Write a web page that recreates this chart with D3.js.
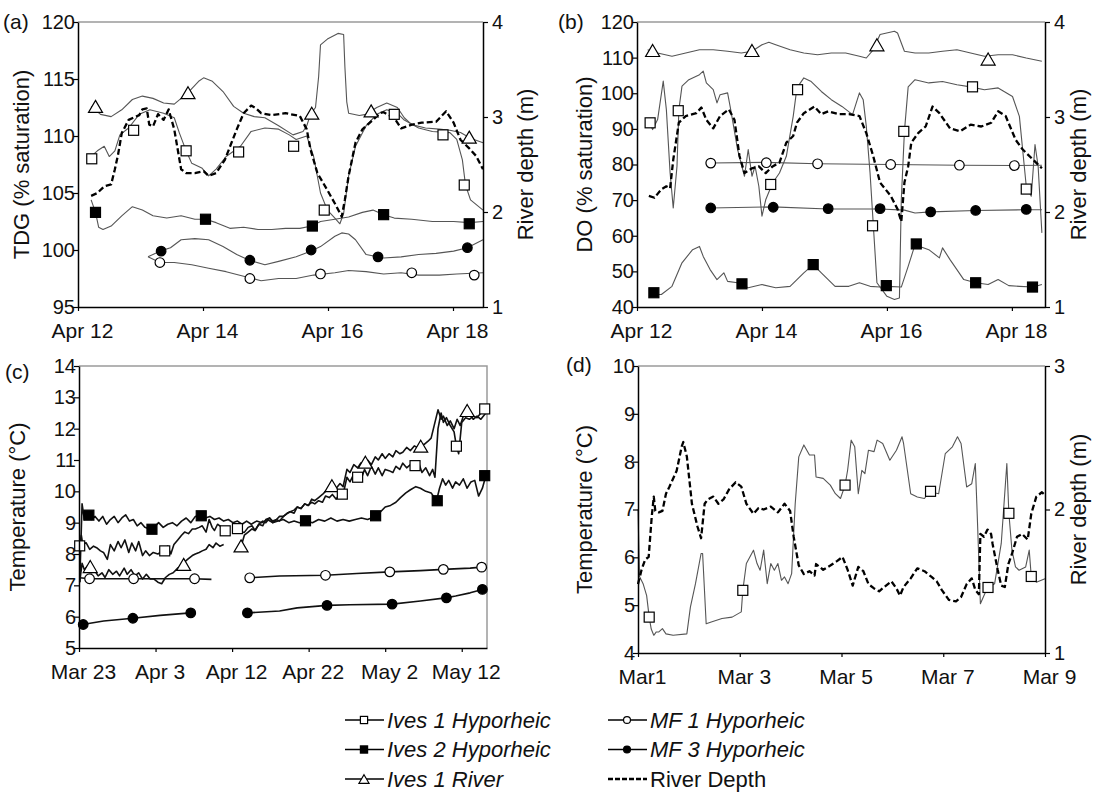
<!DOCTYPE html>
<html lang="en">
<head>
<meta charset="utf-8">
<title>TDG, DO and temperature</title>
<script src="https://d3js.org/d3.v7.min.js"></script>
<style>
  body { margin: 0; background: #fff; }
  text { font-family: "Liberation Sans", Arial, sans-serif; fill: #111; }
</style>
</head>
<body>
<script>
// ---- data: [time, value]; null value = gap in record ----
// (a) TDG, days from Apr 12
var tdgIves1River = [[0.21,112.6],[0.36,111.9],[0.53,111.7],[0.70,112.3],[0.87,113.2],[1.03,113.5],[1.20,113.3],[1.37,112.9],[1.54,112.8],[1.76,113.8],[1.93,114.8],[2.01,115.1],[2.15,114.8],[2.32,113.9],[2.49,112.6],[2.65,112.0],[2.82,111.7],[2.99,111.6],[3.21,110.9],[3.44,110.1],[3.60,110.4],[3.66,110.9],[3.72,111.9],[3.80,112.5],[3.85,115.2],[3.88,118.0],[3.99,118.5],[4.16,119.0],[4.25,118.9],[4.27,116.1],[4.30,113.0],[4.33,112.0],[4.50,111.8],[4.61,111.9],[4.78,112.5],[4.94,112.9],[5.11,112.5],[5.22,111.6],[5.34,111.0],[5.56,110.7],[5.78,110.6],[5.95,110.5],[6.12,110.3],[6.28,109.8],[6.48,109.4]];
var tdgIves1RiverMk = [[0.28,112.6],[1.76,113.8],[3.74,112.0],[4.69,112.2],[6.26,109.9]];
var tdgIves1Hyp = [[0.21,108.2],[0.31,108.7],[0.42,109.1],[0.50,108.2],[0.59,108.7],[0.67,110.1],[0.81,110.7],[0.98,111.9],[1.15,112.3],[1.37,112.0],[1.54,111.6],[1.62,110.3],[1.73,108.7],[1.82,107.6],[1.98,107.2],[2.09,106.5],[2.21,107.1],[2.37,108.2],[2.60,109.1],[2.77,110.4],[2.99,110.7],[3.21,110.6],[3.38,110.1],[3.49,109.7],[3.66,110.0],[3.77,108.2],[3.88,105.0],[3.99,103.5],[4.11,102.8],[4.19,102.3],[4.25,103.2],[4.33,106.5],[4.44,109.1],[4.61,110.9],[4.78,111.9],[4.94,112.3],[5.11,112.0],[5.22,111.4],[5.45,110.7],[5.67,110.4],[5.95,110.3],[6.06,109.7],[6.15,107.9],[6.20,105.7],[6.28,104.4],[6.48,103.5]];
var tdgIves1HypMk = [[0.22,108.0],[0.89,110.5],[1.73,108.7],[2.57,108.6],[3.45,109.1],[3.94,103.5],[5.06,111.9],[5.84,110.1],[6.18,105.7]];
var tdgIves2Hyp = [[0.21,104.4],[0.28,103.3],[0.33,102.0],[0.40,101.8],[0.53,102.1],[0.70,103.0],[0.87,103.8],[1.03,103.5],[1.20,103.0],[1.42,102.8],[1.65,103.0],[1.87,102.7],[2.04,102.7],[2.21,102.4],[2.43,101.9],[2.65,102.0],[2.88,101.8],[3.10,101.8],[3.32,101.9],[3.55,101.9],[3.74,102.1],[3.88,102.5],[4.11,102.7],[4.33,102.9],[4.55,103.3],[4.72,103.5],[4.89,103.1],[5.06,102.8],[5.34,102.7],[5.67,102.5],[6.01,102.5],[6.26,102.4],[6.48,102.5]];
var tdgIves2HypMk = [[0.28,103.3],[2.04,102.7],[3.75,102.1],[4.89,103.1],[6.26,102.3]];
var tdgMF3Hyp = [[1.12,99.4],[1.31,99.9],[1.48,100.2],[1.65,100.9],[1.87,101.0],[2.09,100.9],[2.32,100.3],[2.54,99.6],[2.74,99.1],[2.99,98.7],[3.21,99.0],[3.49,99.4],[3.72,99.9],[3.88,100.3],[4.11,101.2],[4.22,101.5],[4.33,101.4],[4.44,100.9],[4.61,99.6],[4.89,99.3],[5.17,99.4],[5.45,99.6],[5.73,99.7],[6.01,99.9],[6.23,100.2],[6.48,100.9]];
var tdgMF3HypMk = [[1.33,99.9],[2.75,99.1],[3.73,100.0],[4.80,99.4],[6.23,100.2]];
var tdgMF1Hyp = [[1.12,99.4],[1.31,98.9],[1.54,98.9],[1.82,98.7],[2.09,98.4],[2.37,98.1],[2.65,97.7],[2.93,97.3],[3.21,97.5],[3.49,97.5],[3.77,97.8],[4.11,98.0],[4.33,98.2],[4.61,98.1],[4.89,97.9],[5.17,98.0],[5.45,97.8],[5.78,97.8],[6.06,97.9],[6.48,98.0]];
var tdgMF1HypMk = [[1.31,98.9],[2.75,97.5],[3.88,97.9],[5.34,98.0],[6.34,97.8]];
var tdgDepth = [[0.21,2.17],[0.31,2.2],[0.42,2.27],[0.53,2.29],[0.59,2.45],[0.64,2.6],[0.70,2.83],[0.81,2.97],[0.98,3.02],[1.03,3.08],[1.10,3.09],[1.14,2.92],[1.20,2.90],[1.28,3.03],[1.37,2.97],[1.45,3.08],[1.54,2.87],[1.65,2.45],[1.73,2.41],[1.87,2.41],[2.01,2.43],[2.09,2.38],[2.21,2.41],[2.35,2.55],[2.54,2.87],[2.65,3.04],[2.77,3.12],[2.85,3.09],[2.93,3.04],[3.10,3.02],[3.32,3.04],[3.55,3.01],[3.66,2.87],[3.72,2.66],[3.83,2.41],[3.99,2.23],[4.11,2.09],[4.22,1.95],[4.27,2.13],[4.33,2.38],[4.44,2.73],[4.55,2.87],[4.72,2.97],[4.83,3.04],[4.89,3.05],[5.06,2.99],[5.17,2.88],[5.34,2.92],[5.50,2.94],[5.73,2.95],[5.89,3.06],[6.01,2.94],[6.12,2.76],[6.26,2.67],[6.37,2.59],[6.48,2.45]];

// (b) DO, days from Apr 12
var doIves1River = [[0.17,112.2],[0.33,111.3],[0.56,110.4],[0.78,111.3],[1.0,112.2],[1.22,112.2],[1.45,111.8],[1.67,111.3],[1.84,111.8],[2.0,113.6],[2.11,114.3],[2.22,113.6],[2.45,112.2],[2.67,111.3],[2.89,110.8],[3.11,111.3],[3.34,111.3],[3.56,110.4],[3.67,109.9],[3.78,112.2],[3.89,116.5],[4.12,117.4],[4.17,116.9],[4.23,114.1],[4.28,111.8],[4.45,111.3],[4.67,111.3],[4.89,111.8],[5.12,112.2],[5.34,111.3],[5.56,110.4],[5.78,110.8],[6.01,110.8],[6.23,109.9],[6.48,109.0]];
var doIves1RiverMk = [[0.25,112.0],[1.84,112.0],[3.84,113.6],[5.62,109.6]];
var doIves1Hyp = [[0.17,92.6],[0.25,89.8],[0.33,92.6],[0.42,103.4],[0.47,95.4],[0.53,77.6],[0.58,67.8],[0.64,79.5],[0.67,95.4],[0.72,102.0],[0.83,103.8],[1.0,105.2],[1.06,106.2],[1.11,102.9],[1.22,101.0],[1.28,97.3],[1.33,99.6],[1.45,100.1],[1.50,95.4],[1.61,84.2],[1.72,76.7],[1.78,84.2],[1.84,76.7],[1.89,79.5],[1.95,73.9],[2.0,65.5],[2.06,70.1],[2.17,74.8],[2.28,77.6],[2.39,82.3],[2.50,93.5],[2.56,101.5],[2.67,104.3],[2.78,103.4],[2.95,100.5],[3.11,98.2],[3.28,96.3],[3.45,94.0],[3.56,100.1],[3.62,98.2],[3.67,90.7],[3.73,77.6],[3.84,46.8],[4.0,43.0],[4.12,42.1],[4.20,42.5],[4.23,70.1],[4.28,89.3],[4.34,101.8],[4.45,103.8],[4.67,102.9],[4.89,103.3],[5.12,102.4],[5.34,101.8],[5.56,101.0],[5.78,101.5],[6.01,99.1],[6.12,93.5],[6.23,73.9],[6.31,71.1],[6.37,85.6],[6.42,79.5],[6.48,60.8]];
var doIves1HypMk = [[0.21,91.7],[0.66,95.1],[2.14,74.4],[2.57,101.0],[3.77,62.8],[4.27,89.3],[5.37,101.8],[6.23,73.1]];
var doIves2Hyp = [[0.22,43.5],[0.39,43.5],[0.56,45.8],[0.72,52.4],[0.89,56.1],[1.0,57.0],[1.06,54.2],[1.17,50.5],[1.28,47.7],[1.39,49.6],[1.45,47.2],[1.61,46.8],[1.78,45.4],[2.0,46.3],[2.22,45.4],[2.45,45.8],[2.67,49.6],[2.82,51.9],[2.95,49.6],[3.17,45.8],[3.39,45.8],[3.56,46.8],[3.73,45.8],[3.89,45.6],[4.0,45.8],[4.23,45.6],[4.34,51.4],[4.45,57.5],[4.67,56.1],[4.84,53.8],[4.89,56.6],[5.01,53.3],[5.23,47.7],[5.42,46.8],[5.62,46.3],[5.78,47.7],[5.95,46.0],[6.12,45.8],[6.34,45.6],[6.48,46.3]];
var doIves2HypMk = [[0.27,44.0],[1.68,46.5],[2.82,51.9],[3.99,46.0],[4.47,57.7],[5.42,46.8],[6.33,45.6]];
var doMF1Hyp = [[1.17,80.4],[2.06,80.6],[2.89,80.2],[4.06,80.0],[5.17,79.8],[6.04,79.7],[6.48,79.8]];
var doMF1HypMk = [[1.18,80.4],[2.07,80.5],[2.89,80.2],[4.06,80.0],[5.16,79.8],[6.04,79.7]];
var doMF3Hyp = [[1.17,67.8],[2.17,68.1],[3.06,67.5],[3.89,67.5],[4.28,67.2],[4.45,66.4],[4.70,66.7],[5.42,67.1],[6.23,67.3],[6.48,67.3]];
var doMF3HypMk = [[1.18,67.8],[2.18,68.0],[3.06,67.6],[3.89,67.6],[4.70,66.7],[5.42,67.1],[6.23,67.4]];
var doDepth = [[0.19,2.17],[0.28,2.15],[0.39,2.24],[0.47,2.27],[0.53,2.25],[0.58,2.55],[0.67,2.94],[0.78,3.01],[0.95,3.04],[1.03,3.10],[1.11,2.97],[1.22,2.88],[1.33,3.01],[1.47,3.08],[1.56,2.97],[1.64,2.59],[1.72,2.41],[1.84,2.46],[1.95,2.48],[2.06,2.41],[2.17,2.48],[2.28,2.52],[2.39,2.73],[2.50,2.80],[2.56,2.94],[2.67,3.04],[2.84,3.11],[2.95,3.03],[3.06,3.06],[3.23,3.03],[3.39,3.03],[3.56,3.01],[3.67,2.83],[3.78,2.59],[3.89,2.31],[4.06,2.17],[4.17,2.03],[4.23,1.90],[4.28,2.31],[4.34,2.48],[4.39,2.73],[4.50,2.83],[4.62,2.90],[4.73,3.11],[4.84,3.04],[5.01,2.88],[5.17,2.85],[5.34,2.92],[5.51,2.90],[5.67,2.94],[5.78,3.06],[5.90,3.01],[6.06,2.76],[6.17,2.66],[6.34,2.55],[6.48,2.46]];

// (c) temperature, days from Mar 23
var tIves2Hyp = [[0.1,7.1],[0.4,9.6],[0.7,9.1],[1.1,9.3],[1.6,9.1],[2.1,9.2],[2.6,9.05],[3.1,9.2],[3.6,8.95],[4.1,9.1],[4.6,9.2],[5.1,9.0],[5.6,9.15],[6.1,9.25],[6.6,9.05],[7.1,9.1],[7.6,8.9],[8.1,9.0],[8.6,8.85],[9.2,8.8],[9.8,8.85],[10.4,9.0],[11.0,8.85],[11.6,8.95],[12.2,9.0],[12.8,8.9],[13.4,9.05],[14.0,9.15],[14.6,9.0],[15.2,9.2],[15.9,9.25],[16.5,9.15],[17.1,9.2],[17.7,9.1],[18.3,9.15],[18.9,9.05],[19.5,9.1],[20.1,9.0],[20.7,9.05],[21.3,8.95],[21.9,9.05],[22.5,8.95],[23.2,9.05],[23.9,9.0],[24.6,9.1],[25.3,9.0],[26.0,9.05],[26.7,9.1],[27.4,9.0],[28.1,9.05],[28.8,9.0],[29.7,9.05],[30.5,9.0],[31.3,9.1],[32.1,9.05],[32.9,9.15],[33.7,9.05],[34.5,9.1],[35.3,9.05],[36.1,9.1],[36.9,9.15],[37.7,9.1],[38.7,9.2],[39.4,9.35],[40.0,9.5],[40.7,9.55],[41.4,9.65],[42.0,9.8],[42.7,9.95],[43.3,10.05],[44.0,10.15],[44.6,10.1],[45.3,10.0],[46.0,9.95],[46.7,9.7],[47.1,10.1],[47.5,10.4],[47.9,10.2],[48.3,10.35],[48.8,10.1],[49.2,10.3],[49.7,10.2],[50.2,10.4],[50.7,10.1],[51.2,10.3],[51.7,10.35],[52.2,9.85],[52.7,10.1],[53.15,10.5]];
var tIves2HypMk = [[1.29,9.24],[9.53,8.79],[15.97,9.22],[29.59,9.06],[38.75,9.22],[46.8,9.7],[53.0,10.5]];
var tIves1Hyp = [[0.09,8.26],[0.3,8.6],[0.5,8.3],[0.92,8.36],[1.4,8.15],[1.9,8.25],[2.3,8.2],[2.8,8.1],[3.2,8.05],[3.7,7.83],[4.1,8.3],[4.6,8.1],[5.1,8.4],[5.5,8.2],[6.0,8.45],[6.5,8.05],[6.9,8.35],[7.4,8.1],[7.8,8.4],[8.3,7.95],[8.7,8.1],[9.2,7.95],[9.7,8.05],[10.3,8.0],[11.0,8.1],[11.6,8.25],[12.0,8.0],[12.4,8.3],[12.9,8.45],[13.4,8.6],[13.8,8.7],[14.3,8.65],[14.8,8.8],[15.2,8.8],[15.7,8.85],[16.1,8.9],[16.6,8.7],[17.0,9.1],[17.4,8.85],[17.7,8.75],[18.1,8.95],[18.4,8.9],[18.9,8.8],[19.1,8.74],[19.2,null],[20.7,8.85],[21.2,8.7],[21.6,8.69],[22.1,8.85],[22.6,8.9],[23.0,8.75],[23.5,8.95],[24.0,9.05],[24.4,9.0],[24.9,9.15],[25.3,9.05],[25.8,9.1],[26.2,9.2],[26.7,9.2],[27.2,9.3],[27.6,9.35],[28.1,9.4],[28.5,9.5],[29.0,9.45],[29.5,9.6],[29.9,9.55],[30.4,9.65],[30.8,9.6],[31.3,9.7],[31.8,9.65],[32.2,9.85],[32.7,9.8],[33.1,9.9],[33.6,9.75],[34.1,9.95],[34.5,9.9],[35.0,10.45],[35.4,10.3],[35.9,10.55],[36.4,10.45],[36.8,10.35],[37.3,10.7],[37.7,10.5],[38.2,10.8],[38.7,10.55],[39.1,10.75],[39.6,10.5],[40.0,10.7],[40.5,10.66],[41.0,10.6],[41.4,10.8],[41.9,10.7],[42.3,10.9],[42.8,10.75],[43.3,10.85],[43.9,10.82],[44.4,10.9],[44.8,10.6],[45.3,10.75],[45.8,10.5],[46.2,10.7],[46.5,10.45],[46.9,12.0],[47.3,12.5],[47.6,12.2],[48.0,12.35],[48.5,12.1],[49.0,11.9],[49.3,11.44],[49.6,11.2],[50.0,12.2],[50.5,12.35],[51.0,12.3],[51.5,12.4],[52.0,12.35],[52.5,12.5],[53.0,12.63]];
var tIves1HypMk = [[0.09,8.26],[11.2,8.1],[19.1,8.74],[20.7,8.81],[34.4,9.91],[36.4,10.45],[43.9,10.82],[49.3,11.44],[53.0,12.63]];
var tIves1River = [[0.09,7.1],[0.4,7.7],[0.7,7.5],[1.1,7.62],[1.6,7.4],[2.1,7.45],[2.5,7.3],[3.0,7.4],[3.4,7.25],[3.9,7.5],[4.4,7.35],[4.9,7.45],[5.3,7.3],[5.9,7.55],[6.3,7.35],[6.8,7.5],[7.3,7.3],[7.8,7.4],[8.3,7.2],[8.8,7.35],[9.3,7.2],[9.8,7.2],[10.3,7.1],[10.8,7.05],[11.3,7.25],[11.8,7.35],[12.3,7.4],[12.9,7.55],[13.4,7.6],[13.8,7.75],[14.3,7.85],[14.8,7.95],[15.2,8.0],[15.7,8.05],[16.1,8.1],[16.6,8.15],[17.0,8.3],[17.5,8.2],[17.9,8.35],[18.4,8.25],[18.9,8.3],[19.0,null],[21.2,8.26],[21.6,8.6],[22.1,8.7],[22.6,8.8],[23.0,8.75],[23.5,8.95],[24.0,8.9],[24.4,9.1],[24.9,9.15],[25.3,9.0],[25.8,9.1],[26.2,9.05],[26.7,9.2],[27.2,9.3],[27.6,9.35],[28.1,9.3],[28.5,9.5],[29.0,9.45],[29.5,9.6],[30.0,9.55],[30.4,9.75],[30.8,9.7],[31.3,9.8],[31.8,9.9],[32.2,10.0],[32.7,10.05],[33.1,10.2],[33.6,10.1],[34.1,10.25],[34.5,10.15],[35.0,10.7],[35.4,10.6],[35.9,10.85],[36.4,10.75],[36.8,10.9],[37.3,10.93],[37.7,11.0],[38.2,10.85],[38.7,11.1],[39.1,11.0],[39.6,11.2],[40.0,11.05],[40.5,11.2],[41.0,11.1],[41.4,11.3],[41.9,11.2],[42.3,11.25],[42.8,11.4],[43.3,11.3],[43.8,11.45],[44.2,11.4],[44.6,11.46],[45.1,11.5],[45.6,11.6],[46.0,11.7],[46.5,12.2],[46.9,12.6],[47.3,12.3],[47.6,12.4],[48.1,12.1],[48.5,12.25],[49.0,12.0],[49.4,12.3],[49.8,12.1],[50.2,12.4],[50.6,12.58],[51.1,12.45],[51.5,12.3],[52.0,12.4],[52.5,12.3],[53.15,12.5]];
var tIves1RiverMk = [[1.47,7.6],[13.67,7.67],[21.17,8.26],[33.04,10.18],[37.41,10.93],[44.64,11.44],[50.71,12.58]];
var tMF1Hyp = [[0.09,7.24],[1.38,7.21],[3.2,7.21],[7.04,7.21],[10.0,7.21],[14.96,7.21],[17.3,7.19],[17.4,null],[22.2,7.24],[26.2,7.3],[32.2,7.32],[36.3,7.38],[40.6,7.43],[44.6,7.47],[47.6,7.51],[51.1,7.55],[52.6,7.58],[53.3,7.55]];
var tMF1HypMk = [[1.38,7.21],[7.13,7.21],[15.1,7.21],[22.3,7.24],[32.2,7.32],[40.6,7.43],[47.6,7.51],[52.6,7.58]];
var tMF3Hyp = [[0.46,5.75],[3.22,5.86],[7.04,5.95],[10.6,6.04],[14.6,6.12],[14.7,null],[22.0,6.12],[26.2,6.18],[28.5,6.28],[32.4,6.36],[35.4,6.38],[40.9,6.40],[44.6,6.5],[47.9,6.6],[49.2,6.66],[51.1,6.76],[52.7,6.87],[53.3,6.89]];
var tMF3HypMk = [[0.55,5.75],[7.04,5.95],[14.6,6.12],[22.0,6.12],[32.4,6.36],[40.9,6.40],[48.0,6.6],[52.7,6.87]];

// (d) temperature and depth, days from Mar 1
var dIves1Hyp = [[0,7.0],[0.03,5.6],[0.1,5.45],[0.17,5.2],[0.22,4.75],[0.26,4.5],[0.31,4.37],[0.36,4.44],[0.41,4.44],[0.48,4.51],[0.55,4.4],[0.69,4.37],[0.96,4.4],[1.03,4.96],[1.13,5.45],[1.24,6.08],[1.27,6.08],[1.34,4.61],[1.44,4.65],[1.65,4.72],[1.85,4.75],[2.03,4.86],[2.06,5.31],[2.13,5.87],[2.27,6.15],[2.34,5.87],[2.4,5.73],[2.47,6.15],[2.54,5.45],[2.61,5.87],[2.68,5.73],[2.75,5.87],[2.82,5.52],[2.88,5.59],[2.95,5.45],[3.02,5.66],[3.09,7.12],[3.16,8.1],[3.26,8.35],[3.37,8.14],[3.47,8.14],[3.5,7.68],[3.64,7.65],[3.78,7.51],[3.88,7.33],[3.98,7.23],[4.07,7.51],[4.12,7.82],[4.19,8.45],[4.26,8.31],[4.33,7.33],[4.4,7.82],[4.46,7.75],[4.53,8.24],[4.64,8.21],[4.7,8.45],[4.81,8.38],[4.95,8.03],[5.08,8.24],[5.19,8.52],[5.22,8.38],[5.36,7.33],[5.49,7.26],[5.63,7.23],[5.73,7.37],[5.91,7.33],[6.04,8.17],[6.18,8.31],[6.28,8.52],[6.35,8.38],[6.46,7.47],[6.56,7.54],[6.63,7.96],[6.66,7.12],[6.73,5.03],[6.87,5.37],[7.01,5.45],[7.14,6.29],[7.25,7.96],[7.29,6.92],[7.35,6.15],[7.42,5.8],[7.49,5.73],[7.62,5.8],[7.69,6.15],[7.73,5.6],[7.83,5.48],[8.0,5.55]];
var dIves1HypMk = [[0.22,4.75],[2.06,5.31],[4.07,7.51],[5.75,7.38],[6.88,5.37],[7.29,6.92],[7.73,5.6]];
var dDepth = [[0,1.48],[0.07,1.58],[0.14,1.65],[0.21,1.67],[0.27,1.95],[0.31,2.09],[0.34,1.99],[0.41,1.98],[0.48,1.99],[0.55,2.11],[0.62,2.16],[0.76,2.27],[0.86,2.44],[0.89,2.47],[0.96,2.37],[1.06,2.04],[1.17,1.88],[1.24,1.80],[1.31,2.04],[1.37,2.07],[1.48,2.09],[1.58,2.04],[1.68,2.07],[1.79,2.14],[1.92,2.19],[2.03,2.16],[2.13,2.04],[2.27,1.97],[2.37,2.01],[2.47,2.0],[2.61,2.02],[2.75,1.98],[2.88,2.04],[2.99,1.99],[3.06,1.81],[3.16,1.61],[3.26,1.55],[3.37,1.57],[3.47,1.54],[3.5,1.62],[3.64,1.58],[3.78,1.61],[3.91,1.64],[4.02,1.67],[4.12,1.58],[4.22,1.47],[4.33,1.6],[4.43,1.57],[4.53,1.48],[4.64,1.45],[4.74,1.43],[4.84,1.46],[4.98,1.5],[5.08,1.45],[5.15,1.40],[5.22,1.46],[5.36,1.52],[5.49,1.59],[5.63,1.57],[5.77,1.53],[5.87,1.5],[5.97,1.44],[6.11,1.37],[6.25,1.36],[6.35,1.39],[6.46,1.48],[6.56,1.52],[6.63,1.44],[6.7,1.41],[6.73,1.83],[6.8,1.81],[6.87,1.86],[6.94,1.83],[6.97,1.76],[7.07,1.58],[7.14,1.47],[7.21,1.46],[7.28,1.62],[7.35,1.69],[7.45,1.81],[7.55,1.83],[7.66,1.79],[7.73,1.97],[7.83,2.09],[7.94,2.12],[8.0,2.1]];

// tick labels
var abTicks = [0, 2, 4, 6];
var abLabels = ["Apr 12", "Apr 14", "Apr 16", "Apr 18"];
var cTicks = [0, 10, 20, 30, 40, 50];
var cLabels = ["Mar 23", "Apr 3", "Apr 12", "Apr 22", "May 2", "May 12"];
var dTicks = [0, 2, 4, 6, 8];
var dLabels = ["Mar1", "Mar 3", "Mar 5", "Mar 7", "Mar 9"];

var legendLeft = ["Ives 1 Hyporheic", "Ives 2 Hyporheic", "Ives 1 River"];
var legendRight = ["MF 1 Hyporheic", "MF 3 Hyporheic", "River Depth"];

// ---- drawing ----
var w = 1096, h = 792;
var svg = d3.select("body").append("svg").attr("width", w).attr("height", h);

var grey = "#555";

function marker(g, shape, x, y, s) {
    s = s || 1;
    if (shape == "sqOpen" || shape == "sqFill") {
        var a = 10 * s;
        g.append("rect").attr("x", x - a / 2).attr("y", y - a / 2).attr("width", a).attr("height", a)
            .attr("fill", shape == "sqFill" ? "#000" : "#fff").attr("stroke", "#000").attr("stroke-width", 1.2);
    } else if (shape == "cirOpen" || shape == "cirFill") {
        g.append("circle").attr("cx", x).attr("cy", y).attr("r", 4.8 * s)
            .attr("fill", shape == "cirFill" ? "#000" : "#fff").attr("stroke", "#000").attr("stroke-width", 1.2);
    } else if (shape == "tri") {
        var hw = 7 * s, hh = 6 * s;
        g.append("path").attr("d", "M" + x + "," + (y - hh) + "L" + (x + hw) + "," + (y + hh) + "L" + (x - hw) + "," + (y + hh) + "Z")
            .attr("fill", "#fff").attr("stroke", "#000").attr("stroke-width", 1.2);
    }
}

function drawPanel(p) {
    var g = svg.append("g");
    var x = d3.scaleLinear().domain(p.xDomain).range([p.left, p.right]);
    var y = d3.scaleLinear().domain(p.yDomain).range([p.bottom, p.top]);
    var y2 = p.y2Domain ? d3.scaleLinear().domain(p.y2Domain).range([p.bottom, p.top]) : null;

    // grey frame on top (and right when there is no second axis)
    g.append("path")
        .attr("d", "M" + p.left + "," + p.top + "H" + p.right + (y2 ? "" : "V" + p.bottom))
        .attr("fill", "none").attr("stroke", "#9a9a9a").attr("stroke-width", 1.5);

    p.series.forEach(function(s) {
        var sy = s.right ? y2 : y;
        var line = d3.line()
            .defined(function(d) { return d[1] != null; })
            .x(function(d) { return x(d[0]); })
            .y(function(d) { return sy(d[1]); });
        g.append("path").datum(s.data).attr("d", line)
            .attr("fill", "none")
            .attr("stroke", s.color || p.lineColor)
            .attr("stroke-width", s.width || p.lineWidth)
            .attr("stroke-dasharray", s.dash || null)
            .attr("stroke-linejoin", "round");
    });
    p.series.forEach(function(s) {
        if (!s.marks) return;
        s.marks.forEach(function(d) { marker(g, s.shape, x(d[0]), y(d[1])); });
    });

    // axes
    var xa = g.append("g").attr("transform", "translate(0," + p.bottom + ")")
        .call(d3.axisBottom(x).tickValues(p.xTicks).tickFormat(function(d, i) { return p.xLabels[i]; }).tickSize(4).tickSizeOuter(0));
    xa.selectAll("text").attr("y", 16).attr("dx", 4).style("font-size", "21px");

    var ya = g.append("g").attr("transform", "translate(" + p.left + ",0)")
        .call(d3.axisLeft(y).tickValues(p.yTicks).tickFormat(d3.format("d")).tickSize(5).tickSizeOuter(0));
    ya.selectAll("text").attr("x", -3).style("font-size", "20px");

    if (y2) {
        var y2a = g.append("g").attr("transform", "translate(" + p.right + ",0)")
            .call(d3.axisRight(y2).tickValues(p.y2Ticks).tickFormat(d3.format("d")).tickSize(5).tickSizeOuter(0));
        y2a.selectAll("text").attr("x", 9).style("font-size", "20px");
    }
    g.selectAll(".domain").attr("stroke", "#000").attr("stroke-width", 1.5);
    g.selectAll(".tick line").attr("stroke", "#000").attr("stroke-width", 1.2);
    g.selectAll(".tick text").attr("fill", "#111");

    // panel letter and axis titles
    g.append("text").attr("x", p.tagX).attr("y", p.tagY).style("font-size", "21px").text(p.tag);
    var my = (p.top + p.bottom) / 2;
    g.append("text").attr("transform", "translate(" + p.titleX + "," + my + ") rotate(-90)")
        .attr("text-anchor", "middle").attr("dy", "0.35em").style("font-size", "22px").text(p.title);
    if (p.title2) {
        g.append("text").attr("transform", "translate(" + p.title2X + "," + my + ") rotate(-90)")
            .attr("text-anchor", "middle").attr("dy", "0.35em").style("font-size", "22px").text(p.title2);
    }
}

var depthStyle = { color: "#000", width: 2.3, dash: "6,3", right: true };

drawPanel({
    left: 78, right: 483, top: 22, bottom: 307,
    xDomain: [0, 6.48], xTicks: abTicks, xLabels: abLabels,
    yDomain: [95, 120], yTicks: [95, 100, 105, 110, 115, 120],
    y2Domain: [1, 4], y2Ticks: [1, 2, 3, 4],
    lineColor: grey, lineWidth: 1.1,
    tag: "(a)", tagX: 3, tagY: 29,
    title: "TDG (% saturation)", titleX: 21, title2: "River depth (m)", title2X: 525,
    series: [
        { data: tdgIves1River, marks: tdgIves1RiverMk, shape: "tri" },
        { data: tdgIves1Hyp, marks: tdgIves1HypMk, shape: "sqOpen" },
        { data: tdgIves2Hyp, marks: tdgIves2HypMk, shape: "sqFill" },
        { data: tdgMF3Hyp, marks: tdgMF3HypMk, shape: "cirFill" },
        { data: tdgMF1Hyp, marks: tdgMF1HypMk, shape: "cirOpen" },
        Object.assign({ data: tdgDepth }, depthStyle)
    ]
});

drawPanel({
    left: 637, right: 1045, top: 22, bottom: 307,
    xDomain: [0, 6.53], xTicks: abTicks, xLabels: abLabels,
    yDomain: [40, 120], yTicks: [40, 50, 60, 70, 80, 90, 100, 110, 120],
    y2Domain: [1, 4], y2Ticks: [1, 2, 3, 4],
    lineColor: grey, lineWidth: 1.1,
    tag: "(b)", tagX: 558, tagY: 29,
    title: "DO (% saturation)", titleX: 584, title2: "River depth (m)", title2X: 1078,
    series: [
        { data: doIves1River, marks: doIves1RiverMk, shape: "tri" },
        { data: doIves1Hyp, marks: doIves1HypMk, shape: "sqOpen" },
        { data: doIves2Hyp, marks: doIves2HypMk, shape: "sqFill" },
        { data: doMF1Hyp, marks: doMF1HypMk, shape: "cirOpen" },
        { data: doMF3Hyp, marks: doMF3HypMk, shape: "cirFill" },
        Object.assign({ data: doDepth }, depthStyle)
    ]
});

drawPanel({
    left: 79, right: 487, top: 366, bottom: 648,
    xDomain: [0, 53.3], xTicks: cTicks, xLabels: cLabels,
    yDomain: [5, 14], yTicks: [5, 6, 7, 8, 9, 10, 11, 12, 13, 14],
    lineColor: "#111", lineWidth: 1.6,
    tag: "(c)", tagX: 5, tagY: 379,
    title: "Temperature (°C)", titleX: 17,
    series: [
        { data: tMF3Hyp, marks: tMF3HypMk, shape: "cirFill" },
        { data: tMF1Hyp, marks: tMF1HypMk, shape: "cirOpen" },
        { data: tIves2Hyp, marks: tIves2HypMk, shape: "sqFill" },
        { data: tIves1River, marks: tIves1RiverMk, shape: "tri" },
        { data: tIves1Hyp, marks: tIves1HypMk, shape: "sqOpen" }
    ]
});

drawPanel({
    left: 638, right: 1045, top: 366, bottom: 653,
    xDomain: [0, 8], xTicks: dTicks, xLabels: dLabels,
    yDomain: [4, 10], yTicks: [4, 5, 6, 7, 8, 9, 10],
    y2Domain: [1, 3], y2Ticks: [1, 2, 3],
    lineColor: grey, lineWidth: 1.1,
    tag: "(d)", tagX: 566, tagY: 372,
    title: "Temperature (°C)", titleX: 584, title2: "River depth (m)", title2X: 1078,
    series: [
        { data: dIves1Hyp, marks: dIves1HypMk, shape: "sqOpen" },
        Object.assign({ data: dDepth }, depthStyle)
    ]
});

// ---- legend ----
var leg = svg.append("g");
var legShapes = [["sqOpen", "sqFill", "tri"], ["cirOpen", "cirFill", null]];
[legendLeft, legendRight].forEach(function(names, col) {
    var x0 = col == 0 ? 345 : 608;
    names.forEach(function(name, i) {
        var yy = 720 + i * 29.5;
        var shape = legShapes[col][i];
        var ln = leg.append("line").attr("x1", x0).attr("x2", x0 + 39).attr("y1", yy).attr("y2", yy).attr("stroke", "#000");
        if (shape) {
            ln.attr("stroke-width", 1.6);
            marker(leg, shape, x0 + 19, yy, 0.72);
        } else {
            ln.attr("stroke-width", 2.5).attr("stroke-dasharray", "5,2");
        }
        leg.append("text").attr("x", x0 + 42).attr("y", yy).attr("dy", "0.35em")
            .style("font-size", "22px").style("font-style", shape ? "italic" : "normal").text(name);
    });
});
</script>
</body>
</html>
